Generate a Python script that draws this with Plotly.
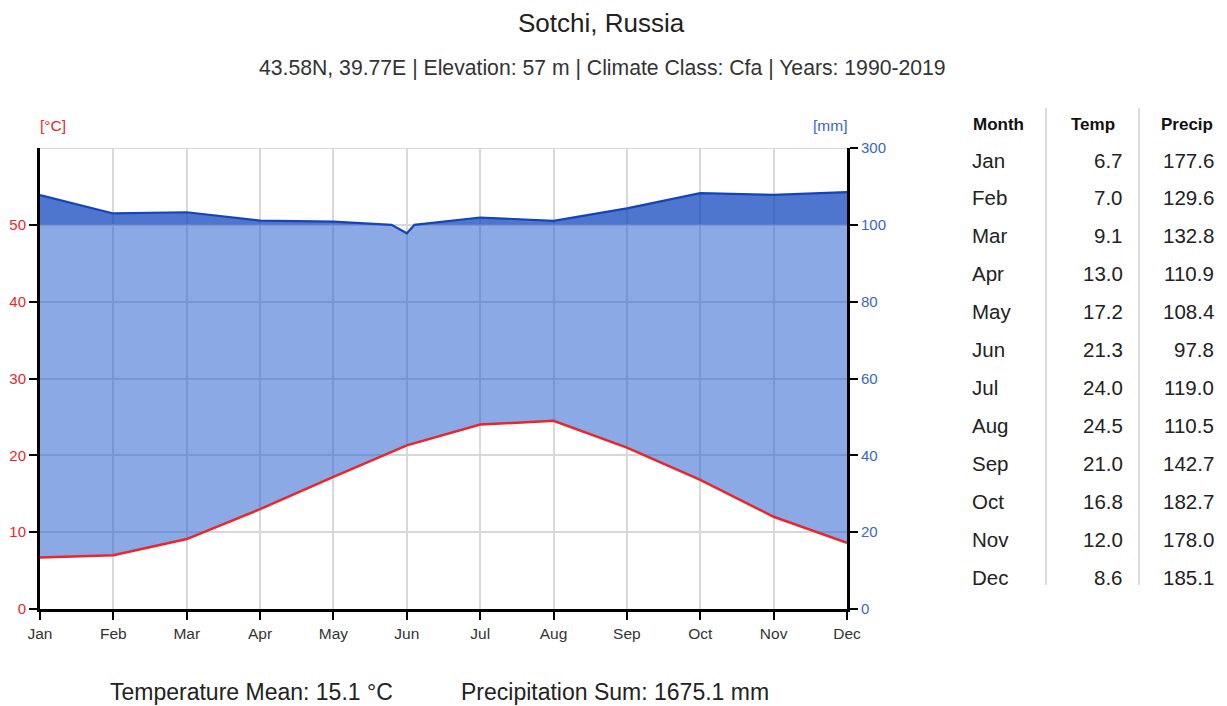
import plotly.graph_objects as go

months = ["Jan", "Feb", "Mar", "Apr", "May", "Jun", "Jul", "Aug", "Sep", "Oct", "Nov", "Dec"]
temp = [6.7, 7.0, 9.1, 13.0, 17.2, 21.3, 24.0, 24.5, 21.0, 16.8, 12.0, 8.6]
precip = [177.6, 129.6, 132.8, 110.9, 108.4, 97.8, 119.0, 110.5, 142.7, 182.7, 178.0, 185.1]

title = "Sotchi, Russia"
subtitle = "43.58N, 39.77E | Elevation: 57 m | Climate Class: Cfa | Years: 1990-2019"
left_ticks = [0, 10, 20, 30, 40, 50]
right_tickvals = [0, 10, 20, 30, 40, 50, 60]
right_ticktext = ["0", "20", "40", "60", "80", "100", "300"]

FONT = "Liberation Sans, Arial, Helvetica, sans-serif"
RED = "#e8262c"
BLUE_TXT = "#3a66c9"


def scale_p(p):
    # Walter-Lieth scale: 20 mm = 10 degC up to 100 mm, above reduced 1:10
    return p / 2 if p <= 100 else 50 + (p - 100) / 20


# precipitation path on the diagram scale, with the 100 mm break points
px_path, py_path = [], []
for i, p in enumerate(precip):
    px_path.append(i)
    py_path.append(scale_p(p))
    if i < len(precip) - 1:
        q = precip[i + 1]
        if (p - 100) * (q - 100) < 0:
            px_path.append(i + (100 - p) / (q - p))
            py_path.append(50)
ps_low = [min(v, 50) for v in py_path]
ps_high = [max(v, 50) for v in py_path]
x = list(range(12))

# page has an 8px body margin; reference pixel coords are shifted by it
OFF = 8
W, H = 1227 - 2 * OFF, 706 - OFF
L, R, T, B = 40 - OFF, 847 - OFF, 148 - OFF, 609 - OFF


def px(xp):
    return (xp - OFF - L) / (R - L)


def py(yp):
    return (B - (yp - OFF)) / (B - T)


fig = go.Figure()
fig.add_trace(go.Scatter(x=x, y=temp, mode="lines", line=dict(width=0), hoverinfo="skip"))
fig.add_trace(go.Scatter(x=px_path, y=ps_low, mode="lines", line=dict(width=0), fill="tonexty",
                         fillcolor="rgba(24,83,204,0.5)", hoverinfo="skip"))
fig.add_trace(go.Scatter(x=[0, 11], y=[50, 50], mode="lines", line=dict(width=0), hoverinfo="skip"))
fig.add_trace(go.Scatter(x=px_path, y=ps_high, mode="lines", line=dict(width=0), fill="tonexty",
                         fillcolor="rgba(20,72,190,0.75)", hoverinfo="skip"))
fig.add_trace(go.Scatter(x=px_path, y=py_path, mode="lines", line=dict(color="#1444b8", width=2.2),
                         hoverinfo="skip"))
fig.add_trace(go.Scatter(x=x, y=temp, mode="lines", line=dict(color=RED, width=2.5), hoverinfo="skip"))
fig.add_trace(go.Scatter(x=[0, 11], y=[0, 60], yaxis="y2", mode="markers",
                         marker=dict(opacity=0), hoverinfo="skip"))

fig.update_layout(
    width=W, height=H,
    margin=dict(l=L, r=W - R, t=T, b=H - B, autoexpand=False),
    paper_bgcolor="white", plot_bgcolor="white",
    showlegend=False,
    font=dict(family=FONT, color="#333"),
    xaxis=dict(range=[0, 11], tickvals=x, ticktext=months, showgrid=True, automargin=False,
               gridcolor="#d8d8d8", gridwidth=2, showline=True, linecolor="black",
               linewidth=3, ticks="outside", ticklen=8, tickwidth=2, tickcolor="black",
               tickfont=dict(size=15.5, color="#333"), zeroline=False, fixedrange=True),
    yaxis=dict(range=[0, 60], tickvals=left_ticks, showgrid=True, gridcolor="#d8d8d8",
               gridwidth=2, showline=True, linecolor="black", linewidth=3, automargin=False,
               ticks="outside", ticklen=8, tickwidth=2, tickcolor="black",
               tickfont=dict(size=15, color=RED), zeroline=False, fixedrange=True),
    yaxis2=dict(range=[0, 60], overlaying="y", side="right", tickvals=right_tickvals,
                ticktext=right_ticktext, showgrid=False, showline=True, linecolor="black",
                linewidth=3, ticks="outside", ticklen=8, tickwidth=2, tickcolor="black",
                automargin=False,
                tickfont=dict(size=15, color=BLUE_TXT), zeroline=False, fixedrange=True),
)

# top border line at 60
fig.add_shape(type="line", xref="x", yref="y", x0=0, x1=11, y0=60, y1=60,
              line=dict(color="#d8d8d8", width=2), layer="below")

ann = []
ann.append(dict(text=title, x=px(601), y=py(23), font=dict(size=26, color="#222")))
ann.append(dict(text=subtitle, x=px(602), y=py(68), font=dict(size=21.2, color="#333")))
ann.append(dict(text="[°C]", x=px(53), y=py(125), font=dict(size=15.5, color=RED)))
ann.append(dict(text="[mm]", x=px(830), y=py(125), font=dict(size=15.5, color=BLUE_TXT)))

t_mean = sum(temp) / len(temp)
p_sum = sum(precip)
ann.append(dict(text=f"Temperature Mean: {t_mean:.1f} °C", x=px(251), y=py(692),
                font=dict(size=23, color="#222")))
ann.append(dict(text=f"Precipitation Sum: {p_sum:.1f} mm", x=px(615), y=py(692),
                font=dict(size=23, color="#222")))

# table
ann.append(dict(text="<b>Month</b>", x=px(971), y=py(124), xanchor="left",
                font=dict(size=17, color="#111")))
ann.append(dict(text="<b>Temp</b>", x=px(1093), y=py(124), font=dict(size=17, color="#111")))
ann.append(dict(text="<b>Precip</b>", x=px(1187), y=py(124), font=dict(size=17, color="#111")))
row0, dy = 160, (577 - 160) / 11
for i, m in enumerate(months):
    yy = py(row0 + i * dy)
    ann.append(dict(text=m, x=px(970), y=yy, xanchor="left", font=dict(size=20.5, color="#222")))
    ann.append(dict(text=f"{temp[i]:.1f}", x=px(1125), y=yy, xanchor="right",
                    font=dict(size=20.5, color="#222")))
    ann.append(dict(text=f"{precip[i]:.1f}", x=px(1216), y=yy, xanchor="right",
                    font=dict(size=20.5, color="#222")))

for a in ann:
    a.setdefault("xanchor", "center")
    a["yanchor"] = "middle"
    a["xref"] = "paper"
    a["yref"] = "paper"
    a["showarrow"] = False
    fig.add_annotation(**a)

for xs in (1046, 1139):
    fig.add_shape(type="line", xref="paper", yref="paper", x0=px(xs), x1=px(xs),
                  y0=py(108), y1=py(585), line=dict(color="#d0d0d0", width=1.5))

fig.write_html("out.html")
